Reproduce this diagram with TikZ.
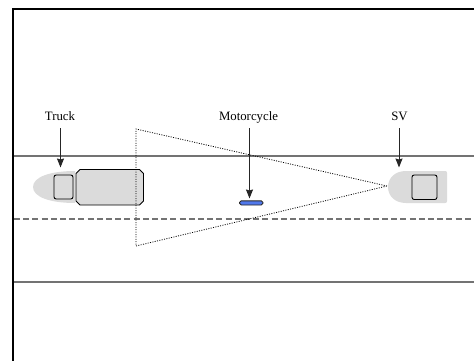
\documentclass[tikz,border=0pt]{standalone}
\usepackage{fontspec}
\setmainfont{Liberation Serif}
\usetikzlibrary{arrows.meta}
\definecolor{bodygrey}{gray}{0.86}
\definecolor{roadgrey}{gray}{0.45}
\definecolor{bikeblue}{RGB}{80,120,235}
\tikzset{
  x=1pt,y=-1pt,
  road/.style={draw=roadgrey,line width=1.4pt},
  outline/.style={draw=black,line width=0.9pt,fill=bodygrey,rounded corners=2.2pt},
  pointer/.style={draw=black!85,line width=1pt,-{Stealth[length=9pt,width=7pt,inset=1pt]}},
  lbl/.style={inner sep=0pt,text height=9pt,text depth=2.5pt,font=\fontsize{12.8}{14}\selectfont},
  sight/.style={draw=black,line width=0.8pt,dash pattern=on 1pt off 1.4pt}
}
\begin{document}
\begin{tikzpicture}
\useasboundingbox (0,0) rectangle (474,361);
% frame
\draw[black,line width=1.8pt] (13,361) -- (13,9) -- (474,9);
% road
\draw[road] (14,156) -- (474,156);
\draw[road] (14,282) -- (474,282);
\draw[draw=roadgrey,line width=2pt,dash pattern=on 6pt off 3.2pt] (14,218.5) -- (474,218.5);
% truck body
\fill[bodygrey] (75,171) .. controls (50,171) and (33,177) .. (33,187) .. controls (33,197) and (50,203) .. (75,203) -- cycle;
\draw[outline] (54,175) rectangle (73,199);
\draw[draw=black,line width=0.9pt,fill=bodygrey] (80,169.5) -- (139.5,169.5) -- (143.5,173.5) -- (143.5,201) -- (139.5,205) -- (80,205) -- (76,201) -- (76,173.5) -- cycle;
% SV
\fill[bodygrey] (406,171) -- (445,171) .. controls (446.5,171) and (447,171.5) .. (447,173) -- (447,201) .. controls (447,202.5) and (446.5,203) .. (445,203) -- (406,203) .. controls (395,203) and (388,196) .. (388,187) .. controls (388,178) and (395,171) .. (406,171) -- cycle;
\draw[outline] (412,175) rectangle (437,199.5);
% motorcycle
\draw[draw=black!85,line width=0.9pt,fill=bikeblue,rounded corners=1.8pt] (239.5,200.8) rectangle (263,205);
% sight triangle
\draw[sight] (387,186) -- (136,129) -- (136,246) -- cycle;
% labels
\node[lbl] (truck) at (60,117) {Truck};
\node[lbl] (moto) at (248.5,117) {Motorcycle};
\node[lbl] (sv) at (399.5,117) {SV};
\coordinate (truckend) at (60.5,167.5);
\coordinate (motoend) at (249.5,198.5);
\coordinate (svend) at (399,167.5);
\draw[pointer] (truck.south -| truckend) ++(0,5.5) -- (truckend);
\draw[pointer] (moto.south -| motoend) ++(0,5.5) -- (motoend);
\draw[pointer] (sv.south -| svend) ++(0,5.5) -- (svend);
\end{tikzpicture}
\end{document}
